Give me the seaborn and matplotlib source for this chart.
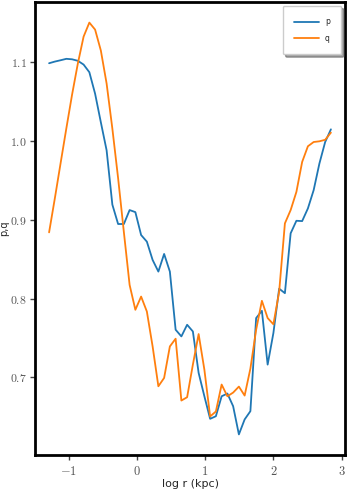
import numpy as np
import pandas as pd
import matplotlib
matplotlib.use("Agg")
import matplotlib.pyplot as plt
import seaborn as sns
from matplotlib.ticker import FuncFormatter

# log radius grid and profile values
log_r = np.linspace(-1.285, 2.842, 50)

p_vals = [1.0987, 1.1008, 1.1025, 1.1043, 1.1037, 1.1018, 1.0970, 1.0873, 1.0600, 1.0237,
          0.9882, 0.9192, 0.8946, 0.8946, 0.9123, 0.9097, 0.8806, 0.8722, 0.8490, 0.8342,
          0.8566, 0.8342, 0.7604, 0.7519, 0.7667, 0.7582, 0.7056, 0.6759, 0.6473, 0.6506,
          0.6759, 0.6794, 0.6633, 0.6275, 0.6465, 0.6570, 0.7752, 0.7844, 0.7161, 0.7562,
          0.8125, 0.8068, 0.8828, 0.8987, 0.8983, 0.9144, 0.9376, 0.9714, 0.9987, 1.0148]

q_vals = [0.8840, 0.9272, 0.9718, 1.0160, 1.0590, 1.0984, 1.1325, 1.1503, 1.1414, 1.1148,
          1.0730, 1.0157, 0.9528, 0.8844, 0.8173, 0.7857, 0.8025, 0.7835, 0.7392, 0.6886,
          0.6992, 0.7392, 0.7490, 0.6705, 0.6747, 0.7161, 0.7549, 0.7097, 0.6503, 0.6566,
          0.6908, 0.6759, 0.6806, 0.6882, 0.6768, 0.7110, 0.7604, 0.7971, 0.7752, 0.7673,
          0.8085, 0.8954, 0.9123, 0.9354, 0.9734, 0.9933, 0.9987, 0.9996, 1.0015, 1.0106]

df = pd.DataFrame({
    "log_r": np.concatenate([log_r, log_r]),
    "val": p_vals + q_vals,
    "which": ["p"] * len(p_vals) + ["q"] * len(q_vals),
})

sns.set_style("ticks")
plt.rcParams["mathtext.fontset"] = "cm"

fig = plt.figure(figsize=(3.48, 4.91), dpi=100)
ax = fig.add_axes([35 / 348, 36 / 491, 310 / 348, 453 / 491])

sns.lineplot(data=df, x="log_r", y="val", hue="which",
             palette=["#1f77b4", "#ff7f0e"], linewidth=1.3, ax=ax)

ax.set_xticks([-1, 0, 1, 2, 3])
ax.set_yticks([0.7, 0.8, 0.9, 1.0, 1.1])
ax.xaxis.set_major_formatter(FuncFormatter(lambda v, _: r"$%g$" % v))
ax.yaxis.set_major_formatter(FuncFormatter(lambda v, _: r"$%.1f$" % v))
ax.tick_params(labelsize=9, length=3.5, width=1, colors="#444444", labelcolor="#555555")
ax.tick_params(axis="y", labelsize=8.5, pad=2.5)

for s in ax.spines.values():
    s.set_linewidth(2)
    s.set_color("black")
    s.set_visible(True)

ax.set_xlabel("log r (kpc)", fontsize=8, labelpad=1)
ax.set_ylabel("p,q", fontsize=7)
ax.yaxis.set_label_coords(-0.082, 0.5)

leg = ax.legend(loc="upper right", fontsize=5.5, frameon=True, shadow=True,
                borderpad=1.5, labelspacing=1.0, handlelength=3.2)
leg.get_frame().set_edgecolor("#cccccc")

fig.savefig("out.png", dpi=100)
